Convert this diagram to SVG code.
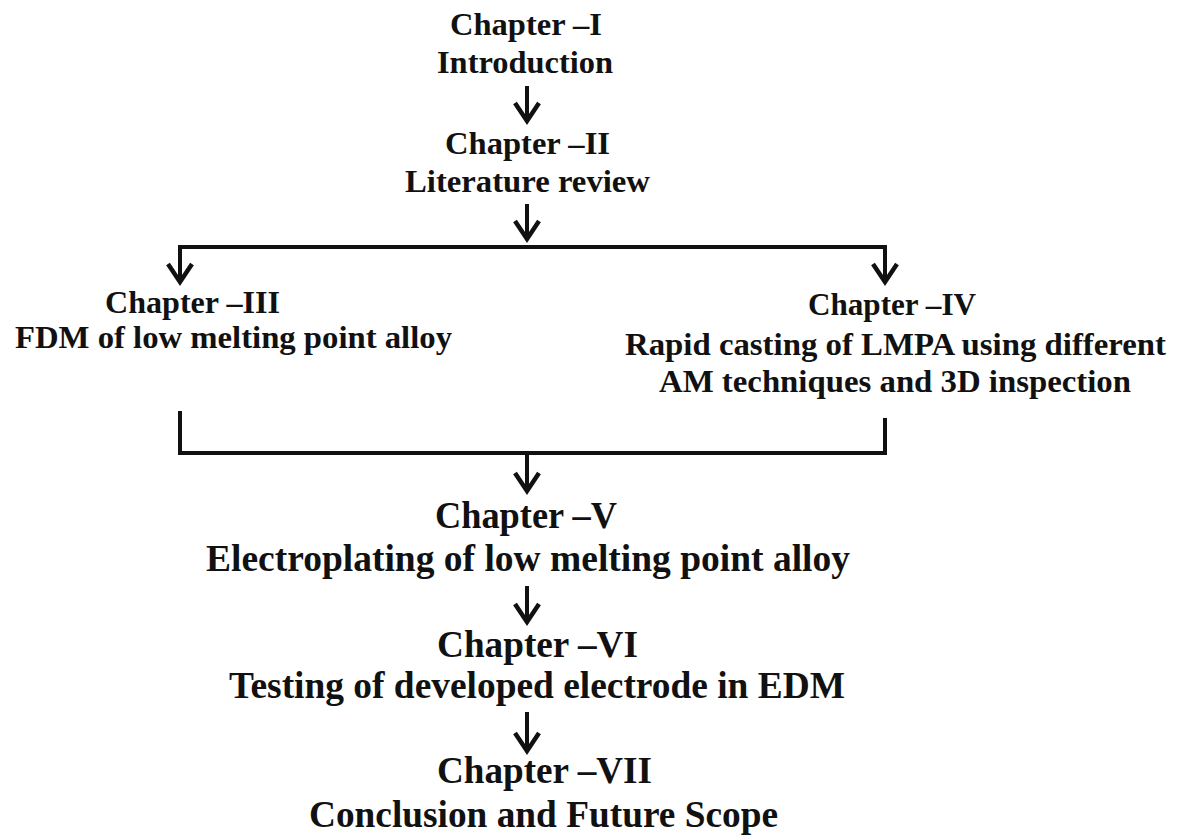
<svg xmlns="http://www.w3.org/2000/svg" width="1178" height="837" viewBox="0 0 1178 837">
<style>
.t{font-family:"Liberation Serif","Times New Roman",serif;font-weight:bold;fill:#111;}
.a{font-size:32px;}
.b{font-size:38px;}
.ln{fill:none;stroke:#111;stroke-width:4;}
.hd{fill:none;stroke:#111;stroke-width:4.5;stroke-linejoin:miter;}
</style>
<rect width="1178" height="837" fill="#fff"/>
<g id="connectors">
<line class="ln" x1="527" y1="86" x2="527" y2="120"/>
<polyline class="hd" points="515,103 527,121 539,103"/>
<line class="ln" x1="527" y1="204" x2="527" y2="238"/>
<polyline class="hd" points="515,221 527,239 539,221"/>
<polyline class="ln" points="180,281 180,247 885,247 885,281"/>
<polyline class="hd" points="168,264 180,282 192,264"/>
<polyline class="hd" points="873,264 885,282 897,264"/>
<polyline class="ln" points="180,411 180,453 885,453 885,418"/>
<line class="ln" x1="527" y1="453" x2="527" y2="490"/>
<polyline class="hd" points="515,473 527,491 539,473"/>
<line class="ln" x1="527" y1="586" x2="527" y2="621"/>
<polyline class="hd" points="515,604 527,622 539,604"/>
<line class="ln" x1="527" y1="712" x2="527" y2="750"/>
<polyline class="hd" points="515,733 527,751 539,733"/>
</g>
<g id="ch1"><text class="t a" x="450" y="35" textLength="152" lengthAdjust="spacingAndGlyphs">Chapter –I</text>
<text class="t a" x="437" y="73" textLength="176" lengthAdjust="spacingAndGlyphs">Introduction</text></g>
<g id="ch2"><text class="t a" x="445" y="154" textLength="165" lengthAdjust="spacingAndGlyphs">Chapter –II</text>
<text class="t a" x="405" y="192" textLength="245" lengthAdjust="spacingAndGlyphs">Literature review</text></g>
<g id="ch3"><text class="t a" x="105" y="313" textLength="175" lengthAdjust="spacingAndGlyphs">Chapter –III</text>
<text class="t a" x="15" y="348" textLength="437" lengthAdjust="spacingAndGlyphs">FDM of low melting point alloy</text></g>
<g id="ch4"><text class="t a" x="808" y="315" textLength="168" lengthAdjust="spacingAndGlyphs">Chapter –IV</text>
<text class="t a" x="625" y="355" textLength="541" lengthAdjust="spacingAndGlyphs">Rapid casting of LMPA using different</text>
<text class="t a" x="659" y="392" textLength="472" lengthAdjust="spacingAndGlyphs">AM techniques and 3D inspection</text></g>
<g id="ch5"><text class="t b" x="435" y="528" textLength="182" lengthAdjust="spacingAndGlyphs">Chapter –V</text>
<text class="t b" x="206" y="571" textLength="644" lengthAdjust="spacingAndGlyphs">Electroplating of low melting point alloy</text></g>
<g id="ch6"><text class="t b" x="437" y="657" textLength="201" lengthAdjust="spacingAndGlyphs">Chapter –VI</text>
<text class="t b" x="229" y="698" textLength="616" lengthAdjust="spacingAndGlyphs">Testing of developed electrode in EDM</text></g>
<g id="ch7"><text class="t b" x="437" y="783" textLength="215" lengthAdjust="spacingAndGlyphs">Chapter –VII</text>
<text class="t b" x="309" y="827" textLength="469" lengthAdjust="spacingAndGlyphs">Conclusion and Future Scope</text></g>
</svg>
